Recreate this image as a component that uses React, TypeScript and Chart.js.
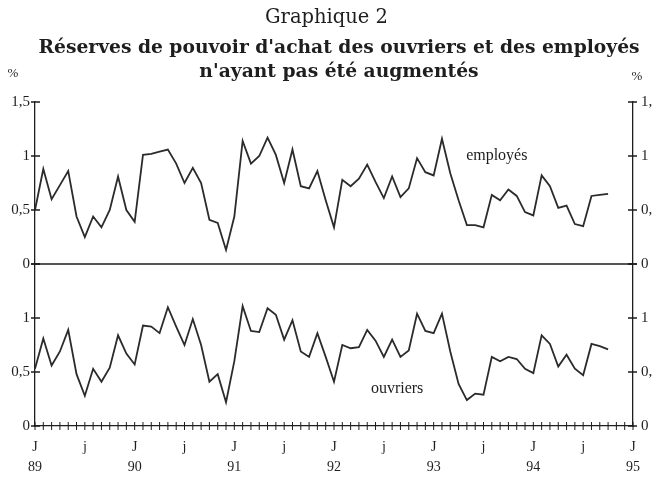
import React, { useEffect, useRef } from 'react';
import { Chart, registerables } from 'chart.js';

Chart.register(...registerables);

// Years shown under the January ticks (Jan 89 .. Jan 95)
const years = ['89', '90', '91', '92', '93', '94', '95'];
// Monthly categories Jan 1989 .. Jan 1995
const months: string[] = [];
for (let y = 0; y < years.length; y++) {
  const n = y === years.length - 1 ? 1 : 12;
  for (let m = 0; m < n; m++) months.push(`19${years[y]}-${String(m + 1).padStart(2, '0')}`);
}

const yTicks = [0, 0.5, 1, 1.5];

const titleText = 'Graphique 2';
const subtitleLines = ["Réserves de pouvoir d'achat des ouvriers et des employés", "n'ayant pas été augmentés"];

// Réserves de pouvoir d'achat, % — employés (top panel)
const employes = [
  0.50, 0.88, 0.60, 0.73, 0.86, 0.44, 0.25, 0.44, 0.34, 0.50, 0.81, 0.50,
  0.39, 1.01, 1.02, 1.04, 1.06, 0.93, 0.75, 0.89, 0.75, 0.41, 0.38, 0.13,
  0.44, 1.14, 0.93, 1.00, 1.17, 1.01, 0.75, 1.06, 0.72, 0.70, 0.86, 0.59,
  0.34, 0.78, 0.72, 0.79, 0.92, 0.76, 0.61, 0.81, 0.62, 0.70, 0.98, 0.85,
  0.82, 1.16, 0.84, 0.59, 0.36, 0.36, 0.34, 0.64, 0.59, 0.69, 0.63, 0.48,
  0.45, 0.82, 0.72, 0.52, 0.54, 0.37, 0.35, 0.63, 0.64, 0.65,
];

// Réserves de pouvoir d'achat, % — ouvriers (bottom panel)
const ouvriers = [
  0.53, 0.81, 0.56, 0.69, 0.89, 0.48, 0.28, 0.53, 0.41, 0.54, 0.84, 0.67,
  0.57, 0.93, 0.92, 0.86, 1.10, 0.92, 0.75, 0.99, 0.75, 0.41, 0.48, 0.22,
  0.60, 1.11, 0.88, 0.87, 1.09, 1.03, 0.80, 0.98, 0.69, 0.64, 0.86, 0.64,
  0.41, 0.75, 0.72, 0.73, 0.89, 0.79, 0.64, 0.80, 0.64, 0.70, 1.04, 0.88,
  0.86, 1.04, 0.69, 0.39, 0.24, 0.30, 0.29, 0.64, 0.60, 0.64, 0.62, 0.53,
  0.49, 0.84, 0.76, 0.55, 0.66, 0.53, 0.47, 0.76, 0.74, 0.71,
];

const INK = '#1e1e1e';
const LINE = '#2b2b2b';
const SERIF = "'Liberation Serif', 'DejaVu Serif', serif";
const WIDE_SERIF = "'DejaVu Serif', 'Liberation Serif', serif";

const fmt = (v: number) => String(v).replace('.', ',');

const decor = {
  id: 'decor',
  afterDraw(chart: any) {
    const { ctx, chartArea, scales } = chart;
    const x = scales.x, yE = scales.yE, yO = scales.yO;
    ctx.save();
    ctx.strokeStyle = INK;
    ctx.lineWidth = 1.3;
    // zero line of top panel
    const z = yE.getPixelForValue(0);
    ctx.beginPath();
    ctx.moveTo(chartArea.left, z);
    ctx.lineTo(chartArea.right, z);
    ctx.stroke();
    // crossing ticks on both vertical axes
    for (const s of [yE, yO]) {
      for (const v of yTicks) {
        const py = s.getPixelForValue(v);
        ctx.beginPath();
        ctx.moveTo(chartArea.left - 4, py);
        ctx.lineTo(chartArea.left + 5, py);
        ctx.moveTo(chartArea.right - 5, py);
        ctx.lineTo(chartArea.right + 4, py);
        ctx.stroke();
      }
    }
    // monthly ticks on bottom axis
    ctx.lineWidth = 1;
    for (let i = 0; i < months.length; i++) {
      const px = x.getPixelForValue(i);
      ctx.beginPath();
      ctx.moveTo(px, chartArea.bottom - 4);
      ctx.lineTo(px, chartArea.bottom + 4);
      ctx.stroke();
    }
    ctx.fillStyle = INK;
    ctx.textAlign = 'center';
    ctx.textBaseline = 'middle';
    // bold subtitle (slightly right of centre, as in the original)
    ctx.font = `bold 18.7px ${WIDE_SERIF}`;
    const cx = (chartArea.left + chartArea.right) / 2 + 5;
    subtitleLines.forEach((t, k) => ctx.fillText(t, cx, chartArea.top - 54 + k * 24.3));
    // % units
    ctx.font = `13px ${SERIF}`;
    ctx.fillText('%', chartArea.left - 22, chartArea.top - 28);
    ctx.fillText('%', chartArea.right + 4, chartArea.top - 25);
    // series labels
    ctx.font = `16px ${SERIF}`;
    ctx.fillText('employés', x.getPixelForValue(55.6), yE.getPixelForValue(1.0));
    ctx.fillText('ouvriers', x.getPixelForValue(43.6), yO.getPixelForValue(0.34));
    ctx.restore();
  },
};

function yAxis(position: 'left' | 'right', showTop: boolean, weight: number) {
  return {
    type: 'linear' as const,
    position,
    stack: position,
    stackWeight: 1,
    weight,
    min: 0,
    max: 1.5,
    grid: { display: true, drawOnChartArea: false, drawTicks: false },
    border: { display: true, color: INK, width: 1.3 },
    afterFit: (s: any) => {
      s.width = position === 'left' ? 35 : 20;
    },
    ticks: {
      stepSize: 0.5,
      padding: position === 'left' ? 5 : 8,
      color: INK,
      font: { family: SERIF, size: 15 },
      callback: (v: any) => (v === 1.5 && !showTop ? '' : fmt(v)),
    },
  };
}

export default function App() {
  const ref = useRef<HTMLCanvasElement>(null);
  useEffect(() => {
    const chart = new Chart(ref.current!, {
      type: 'line',
      data: {
        labels: months,
        datasets: [
          { label: 'employés', data: employes, yAxisID: 'yE', borderColor: LINE, borderWidth: 1.8, pointRadius: 0, tension: 0 },
          { label: 'ouvriers', data: ouvriers, yAxisID: 'yO', borderColor: LINE, borderWidth: 1.8, pointRadius: 0, tension: 0 },
        ],
      },
      options: {
        animation: false,
        responsive: false,
        layout: { padding: { left: 0, right: 0, top: 0, bottom: 0 } },
        plugins: {
          legend: { display: false },
          tooltip: { enabled: false },
          title: {
            display: true,
            text: titleText,
            color: INK,
            font: { family: WIDE_SERIF, size: 19.5, weight: 'normal', lineHeight: 1.2 },
            padding: { top: 6, bottom: 72.6 },
          },
          subtitle: { display: false },
        },
        scales: {
          x: {
            type: 'category',
            offset: false,
            grid: { display: true, drawOnChartArea: false, drawTicks: false },
            border: { display: true, color: INK, width: 1.3 },
            afterFit: (s: any) => {
              s.height = 56;
            },
            ticks: {
              autoSkip: false,
              maxRotation: 0,
              padding: 12,
              color: INK,
              font: { family: SERIF, size: 14, lineHeight: 1.4 },
              callback: (_v: any, i: number) =>
                i % 12 === 0 ? ['J', years[i / 12]] : i % 12 === 6 ? 'j' : '',
            },
          },
          yE: yAxis('left', true, 2),
          yO: yAxis('left', false, 1),
          yE2: yAxis('right', true, 1),
          yO2: yAxis('right', false, 2),
        },
      } as any,
      plugins: [decor],
    });
    return () => chart.destroy();
  }, []);
  return (
    <div style={{ position: 'absolute', left: 0, top: 0, width: 653, height: 482, background: '#fff' }}>
      <canvas ref={ref} width={653} height={482} style={{ display: 'block' }} />
    </div>
  );
}
